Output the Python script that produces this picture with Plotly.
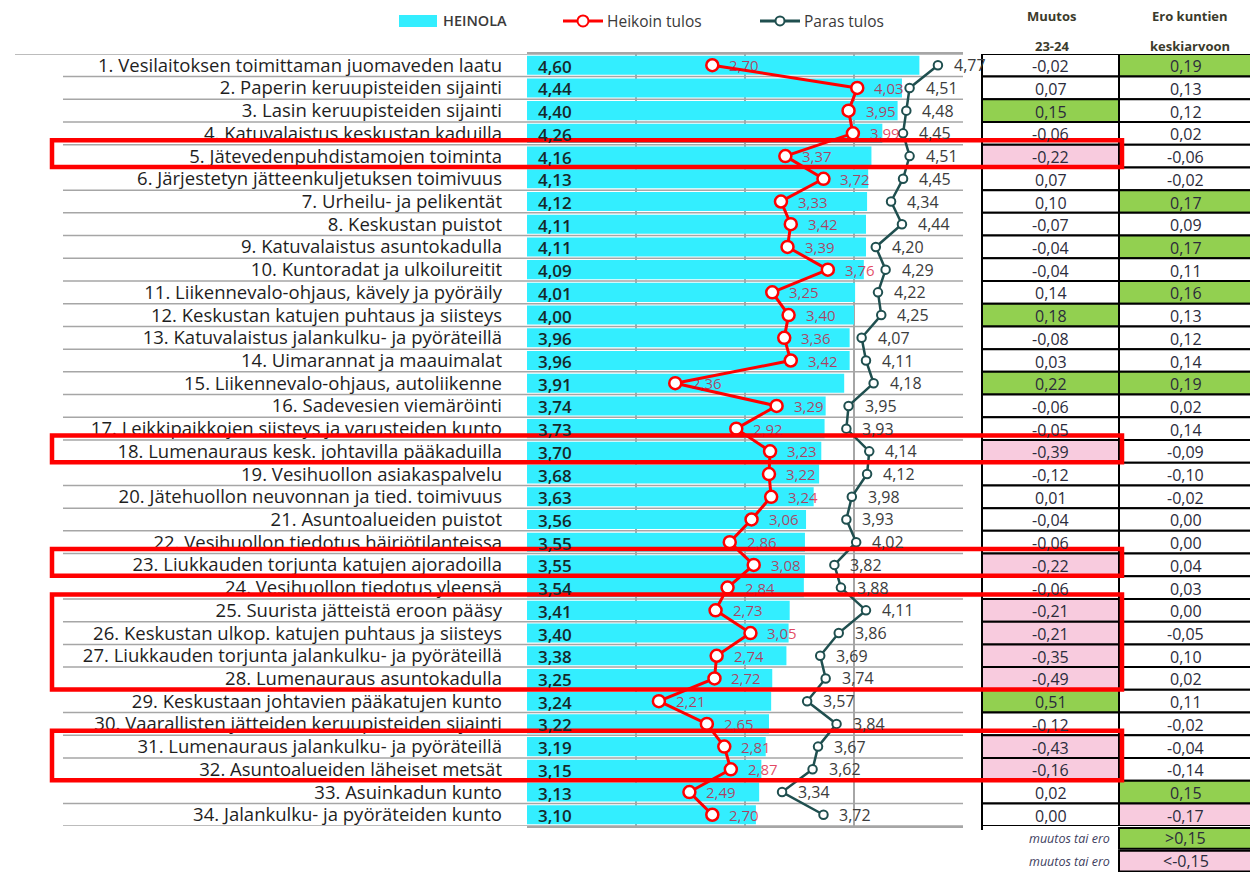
import plotly.graph_objects as go

labels = [
    "1. Vesilaitoksen toimittaman juomaveden laatu",
    "2. Paperin keruupisteiden sijainti",
    "3. Lasin keruupisteiden sijainti",
    "4. Katuvalaistus keskustan kaduilla",
    "5. Jätevedenpuhdistamojen toiminta",
    "6. Järjestetyn jätteenkuljetuksen toimivuus",
    "7. Urheilu- ja pelikentät",
    "8. Keskustan puistot",
    "9. Katuvalaistus asuntokadulla",
    "10. Kuntoradat ja ulkoilureitit",
    "11. Liikennevalo-ohjaus, kävely ja pyöräily",
    "12. Keskustan katujen puhtaus ja siisteys",
    "13. Katuvalaistus jalankulku- ja pyöräteillä",
    "14. Uimarannat ja maauimalat",
    "15. Liikennevalo-ohjaus, autoliikenne",
    "16. Sadevesien viemäröinti",
    "17. Leikkipaikkojen siisteys ja varusteiden kunto",
    "18. Lumenauraus kesk. johtavilla pääkaduilla",
    "19. Vesihuollon asiakaspalvelu",
    "20. Jätehuollon neuvonnan ja tied. toimivuus",
    "21. Asuntoalueiden puistot",
    "22. Vesihuollon tiedotus häiriötilanteissa",
    "23. Liukkauden torjunta katujen ajoradoilla",
    "24. Vesihuollon tiedotus yleensä",
    "25. Suurista jätteistä eroon pääsy",
    "26. Keskustan ulkop. katujen puhtaus ja siisteys",
    "27. Liukkauden torjunta jalankulku- ja pyöräteillä",
    "28. Lumenauraus asuntokadulla",
    "29. Keskustaan johtavien pääkatujen kunto",
    "30. Vaarallisten jätteiden keruupisteiden sijainti",
    "31. Lumenauraus jalankulku- ja pyöräteillä",
    "32. Asuntoalueiden läheiset metsät",
    "33. Asuinkadun kunto",
    "34. Jalankulku- ja pyöräteiden kunto",
]
heinola = [4.60, 4.44, 4.40, 4.26, 4.16, 4.13, 4.12, 4.11, 4.11, 4.09, 4.01, 4.00,
           3.96, 3.96, 3.91, 3.74, 3.73, 3.70, 3.68, 3.63, 3.56, 3.55, 3.55, 3.54,
           3.41, 3.40, 3.38, 3.25, 3.24, 3.22, 3.19, 3.15, 3.13, 3.10]
heikoin = [2.70, 4.03, 3.95, 3.99, 3.37, 3.72, 3.33, 3.42, 3.39, 3.76, 3.25, 3.40,
           3.36, 3.42, 2.36, 3.29, 2.92, 3.23, 3.22, 3.24, 3.06, 2.86, 3.08, 2.84,
           2.73, 3.05, 2.74, 2.72, 2.21, 2.65, 2.81, 2.87, 2.49, 2.70]
paras = [4.77, 4.51, 4.48, 4.45, 4.51, 4.45, 4.34, 4.44, 4.20, 4.29, 4.22, 4.25,
         4.07, 4.11, 4.18, 3.95, 3.93, 4.14, 4.12, 3.98, 3.93, 4.02, 3.82, 3.88,
         4.11, 3.86, 3.69, 3.74, 3.57, 3.84, 3.67, 3.62, 3.34, 3.72]
muutos = [-0.02, 0.07, 0.15, -0.06, -0.22, 0.07, 0.10, -0.07, -0.04, -0.04, 0.14, 0.18,
          -0.08, 0.03, 0.22, -0.06, -0.05, -0.39, -0.12, 0.01, -0.04, -0.06, -0.22, -0.06,
          -0.21, -0.21, -0.35, -0.49, 0.51, -0.12, -0.43, -0.16, 0.02, 0.00]
ero = [0.19, 0.13, 0.12, 0.02, -0.06, -0.02, 0.17, 0.09, 0.17, 0.11, 0.16, 0.13,
       0.12, 0.14, 0.19, 0.02, 0.14, -0.09, -0.10, -0.02, 0.00, 0.00, 0.04, 0.03,
       0.00, -0.05, 0.10, 0.02, 0.11, -0.02, -0.04, -0.14, 0.15, -0.17]
highlight_groups = [(5, 5), (18, 18), (23, 23), (25, 28), (31, 32)]
threshold = 0.15

W, H = 1250, 872
PL, PR, PT, PB = 527, 963, 52, 826
CYAN = "#33EEFF"
RED = "#FF0000"
DARK = "#1F4F4F"
GREEN = "#92D050"
PINK = "#F8CBDE"
GRID = "#A6A6A6"
FONT = "Open Sans"

n = len(labels)
rows = list(range(1, n + 1))
row_h = (PB - PT) / n


def px(x):
    return x / W


def py(y):
    return 1 - y / H


def row_center_px(r):
    return PT + (r - 0.5) * row_h


def fmt(v):
    return f"{v:.2f}".replace(".", ",")


fig = go.Figure()
fig.add_trace(go.Bar(x=heinola, y=rows, orientation="h", width=0.84,
                     marker=dict(color=CYAN, line=dict(width=0)), name="HEINOLA",
                     showlegend=False))
fig.add_trace(go.Scatter(x=heikoin, y=rows, mode="lines+markers", name="Heikoin tulos",
                         line=dict(color=RED, width=3),
                         marker=dict(symbol="circle", size=12, color="white",
                                     line=dict(color=RED, width=2.5)),
                         showlegend=False))
fig.add_trace(go.Scatter(x=paras, y=rows, mode="lines+markers", name="Paras tulos",
                         line=dict(color=DARK, width=2.5),
                         marker=dict(symbol="circle", size=8.5, color="white",
                                     line=dict(color=DARK, width=2)),
                         showlegend=False))

shapes = []
anns = []

# row boundary lines (labels area + plot)
for i in range(n + 1):
    yb = i + 0.5
    x0 = 15 if i == 0 else 63
    shapes.append(dict(type="line", xref="paper", yref="y", x0=px(x0), x1=px(PR),
                       y0=yb, y1=yb, line=dict(color=GRID, width=1.5), layer="below"))

# value labels
for i, r in enumerate(rows):
    anns.append(dict(x=1, y=r, xref="x", yref="y", text=fmt(heinola[i]), showarrow=False,
                     xanchor="left", yanchor="middle", xshift=9, yshift=-1,
                     font=dict(family=FONT, size=17, color="#16292B", weight=600)))
    anns.append(dict(x=heikoin[i], y=r, xref="x", yref="y", text=fmt(heikoin[i]), showarrow=False,
                     xanchor="left", yanchor="middle", xshift=15,
                     font=dict(family=FONT, size=15, color="rgba(215,0,40,0.72)")))
    anns.append(dict(x=paras[i], y=r, xref="x", yref="y", text=fmt(paras[i]), showarrow=False,
                     xanchor="left", yanchor="middle", xshift=14,
                     font=dict(family=FONT, size=16, color="#3C3C3C")))


def cell_color(v):
    if v >= threshold - 1e-9:
        return GREEN
    if v <= -threshold + 1e-9:
        return PINK
    return "white"


# right table
C0, C1, C2 = 982, 1119, 1252
for i, r in enumerate(rows):
    for (xa, xb, v) in [(C0, C1, muutos[i]), (C1, C2, ero[i])]:
        shapes.append(dict(type="rect", xref="paper", yref="y", x0=px(xa), x1=px(xb),
                           y0=r - 0.5, y1=r + 0.5, fillcolor=cell_color(v),
                           line=dict(color="black", width=2), layer="above"))
        anns.append(dict(x=px((xa + xb) / 2), y=r, xref="paper", yref="y", text=fmt(v),
                         showarrow=False, xanchor="center", yanchor="middle", yshift=-1,
                         font=dict(family=FONT, size=16, color="#2B2B3B")))

# table headers
for xc, t1, t2 in [(1052, "Muutos", "23-24"), (1190, "Ero kuntien", "keskiarvoon")]:
    anns.append(dict(x=px(xc), y=py(14), xref="paper", yref="paper", text=t1, showarrow=False,
                     xanchor="center", yanchor="middle",
                     font=dict(family=FONT, size=13, color="#3B3B2B", weight=700)))
    anns.append(dict(x=px(xc), y=py(44), xref="paper", yref="paper", text=t2, showarrow=False,
                     xanchor="center", yanchor="middle",
                     font=dict(family=FONT, size=13, color="#3B3B2B", weight=700)))

# bottom legend of table
leg_rows = [(GREEN, ">" + fmt(threshold)), (PINK, "<-" + fmt(threshold))]
for k, (col, txt) in enumerate(leg_rows):
    yc = row_center_px(n + 1 + k) + 1
    shapes.append(dict(type="rect", xref="paper", yref="paper", x0=px(C1), x1=px(C2),
                       y0=py(yc - row_h / 2 + 1), y1=py(yc + row_h / 2 - 1), fillcolor=col,
                       line=dict(color="black", width=2), layer="above"))
    anns.append(dict(x=px((C1 + C2) / 2), y=py(yc), xref="paper", yref="paper", text=txt,
                     showarrow=False, xanchor="center", yanchor="middle",
                     font=dict(family=FONT, size=16, color="#2B2B3B")))
    anns.append(dict(x=px(1112), y=py(yc), xref="paper", yref="paper",
                     text="<i>muutos tai ero</i>", showarrow=False, xanchor="right",
                     yanchor="middle",
                     font=dict(family=FONT, size=12.5, color="#404060")))

# left border of table
shapes.append(dict(type="line", xref="paper", yref="paper", x0=px(C0), x1=px(C0),
                   y0=py(PT), y1=py(PB + 4), line=dict(color="black", width=2)))

# red highlight rectangles
for (a, b) in highlight_groups:
    shapes.append(dict(type="rect", xref="paper", yref="y", x0=px(52), x1=px(1122),
                       y0=a - 0.7, y1=b + 0.48, line=dict(color=RED, width=4.5), layer="above"))

# legend (manual)
ly = 19
shapes.append(dict(type="rect", xref="paper", yref="paper", x0=px(399), x1=px(437),
                   y0=py(13), y1=py(25), fillcolor=CYAN, line=dict(width=0)))
anns.append(dict(x=px(441), y=py(ly), xref="paper", yref="paper", text="HEINOLA",
                 showarrow=False, xanchor="left", yanchor="middle",
                 font=dict(family=FONT, size=14.5, color="#3A3A3A", weight=600)))
for (xa, xb, col, ms, name) in [(563, 603, RED, 11, "Heikoin tulos"), (760, 800, DARK, 9, "Paras tulos")]:
    shapes.append(dict(type="line", xref="paper", yref="paper", x0=px(xa), x1=px(xb),
                       y0=py(ly), y1=py(ly), line=dict(color=col, width=3)))
    xm = (xa + xb) / 2
    shapes.append(dict(type="circle", xref="paper", yref="paper", x0=px(xm - ms / 2), x1=px(xm + ms / 2),
                       y0=py(ly - ms / 2), y1=py(ly + ms / 2), fillcolor="white",
                       line=dict(color=col, width=2)))
    anns.append(dict(x=px(xb + 2), y=py(ly), xref="paper", yref="paper", text=name,
                     showarrow=False, xanchor="left", yanchor="middle",
                     font=dict(family=FONT, size=15.5, color="#3A3A3A")))

fig.update_layout(
    width=W, height=H, autosize=False,
    margin=dict(l=0, r=0, t=0, b=0),
    paper_bgcolor="white", plot_bgcolor="white",
    font=dict(family=FONT),
    showlegend=False,
    shapes=shapes, annotations=anns,
    xaxis=dict(domain=[px(PL), px(PR)], range=[1, 5], tickvals=[2, 3, 4],
               showticklabels=False, showgrid=True, gridcolor=GRID, gridwidth=1.5,
               showline=True, linecolor=GRID, linewidth=1.5, mirror=True,
               zeroline=False, fixedrange=True),
    yaxis=dict(domain=[py(PB), py(PT)], range=[n + 0.5, 0.5], tickvals=rows, ticktext=labels,
               showgrid=False, zeroline=False, ticks="", ticklabelstandoff=24,
               tickfont=dict(family=FONT, size=18.5, color="#1E1E1E"),
               showline=False, fixedrange=True),
)

fig.write_html("out.html", config={"displayModeBar": False},
               post_script="document.body.style.margin='0';")
